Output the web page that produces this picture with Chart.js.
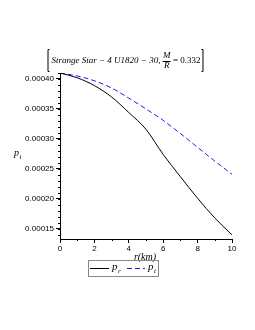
<!DOCTYPE html>
<html>
<head>
<meta charset="utf-8">
<script src="https://cdn.jsdelivr.net/npm/chart.js@4"></script>
<style>
  html, body { margin: 0; padding: 0; background: #fff; }
  #wrap { width: 255px; height: 330px; position: relative; }
</style>
</head>
<body>
<div id="wrap"><canvas id="c"></canvas></div>
<script>
// data
const rKm = [0, 1, 2, 3, 4, 5, 6, 7, 8, 9, 10];
const pR = [0.000410, 0.000402, 0.000389, 0.000370, 0.000344, 0.000316, 0.000274, 0.000237, 0.000201, 0.000168, 0.000140];
const pT = [0.000410, 0.000405, 0.000397, 0.000385, 0.000368, 0.000350, 0.000331, 0.000309, 0.000286, 0.000263, 0.000241];
const yTicks = [0.00015, 0.00020, 0.00025, 0.00030, 0.00035, 0.00040];
const xTicks = [0, 2, 4, 6, 8, 10];
const titleText = 'Strange Star \u2212 4 U1820 \u2212 30, ';
const titleValue = ' = 0.332';

const serif = '"Liberation Serif", "DejaVu Serif", serif';
const sans = '"Liberation Sans", Arial, sans-serif';

// minor ticks, title with fraction, axis labels and legend
const extras = {
  id: 'extras',
  afterDraw(chart) {
    const { ctx, scales: { x, y } } = chart;
    ctx.save();
    ctx.strokeStyle = '#000'; ctx.lineWidth = 1;
    ctx.beginPath();
    for (let v = 0.00014; v <= 0.000411; v += 0.00001) {
      const py = Math.round(y.getPixelForValue(v)) + 0.5;
      ctx.moveTo(x.left - 2, py); ctx.lineTo(x.left, py);
    }
    for (let v = 1; v <= 9; v += 2) {
      const px = Math.round(x.getPixelForValue(v)) + 0.5;
      ctx.moveTo(px, y.bottom); ctx.lineTo(px, y.bottom + 2);
    }
    ctx.stroke();

    // title
    ctx.fillStyle = '#000';
    ctx.textBaseline = 'middle';
    ctx.font = 'italic 9px ' + serif;
    const w1 = ctx.measureText(titleText).width;
    ctx.font = '9px ' + serif;
    const w3 = ctx.measureText(titleValue).width;
    const fw = 8;
    const total = w1 + fw + w3;
    const cx = 126, ty = 61;
    let tx = cx - total / 2;
    ctx.textAlign = 'left';
    ctx.font = 'italic 9px ' + serif;
    ctx.fillText(titleText, tx, ty);
    tx += w1;
    ctx.textAlign = 'center';
    ctx.fillText('M', tx + fw / 2, ty - 5);
    ctx.fillText('R', tx + fw / 2, ty + 5);
    ctx.beginPath();
    ctx.moveTo(tx, ty + 0.5); ctx.lineTo(tx + fw, ty + 0.5); ctx.stroke();
    tx += fw;
    ctx.textAlign = 'left';
    ctx.font = '9px ' + serif;
    ctx.fillText(titleValue, tx, ty);
    tx += w3;
    // brackets
    const bl = cx - total / 2 - 4, br = tx + 3;
    ctx.beginPath();
    ctx.moveTo(bl + 2, ty - 11.5); ctx.lineTo(bl + 0.5, ty - 11.5); ctx.lineTo(bl + 0.5, ty + 10.5); ctx.lineTo(bl + 2, ty + 10.5);
    ctx.moveTo(br - 2, ty - 11.5); ctx.lineTo(br - 0.5, ty - 11.5); ctx.lineTo(br - 0.5, ty + 10.5); ctx.lineTo(br - 2, ty + 10.5);
    ctx.stroke();

    // y label p_i
    ctx.font = 'italic 10px ' + serif;
    ctx.textAlign = 'left';
    ctx.fillText('p', 14, 153);
    ctx.font = 'italic 7px ' + serif;
    ctx.fillText('i', 19.5, 157);

    // x label
    ctx.font = 'italic 10px ' + serif;
    ctx.textAlign = 'center';
    ctx.fillText('r(km)', 145, 257);

    // legend
    ctx.strokeStyle = '#888';
    ctx.strokeRect(88.5, 260.5, 70, 16);
    const ly = 268.5;
    const drawEntry = (ds, x0, len, sub) => {
      ctx.strokeStyle = ds.borderColor; ctx.lineWidth = 1;
      ctx.setLineDash(ds.borderDash || []);
      ctx.beginPath(); ctx.moveTo(x0, ly); ctx.lineTo(x0 + len, ly); ctx.stroke();
      ctx.setLineDash([]);
      ctx.fillStyle = '#000';
      ctx.textAlign = 'left';
      ctx.font = 'italic 11px ' + serif;
      ctx.fillText('p', x0 + len + 3, ly - 1);
      ctx.font = 'italic 7px ' + serif;
      ctx.fillText(sub, x0 + len + 9, ly + 3);
    };
    drawEntry(chart.data.datasets[0], 90, 19, 'r');
    drawEntry(chart.data.datasets[1], 127, 18, 't');
    ctx.restore();
  }
};

new Chart(document.getElementById('c'), {
  type: 'line',
  data: {
    datasets: [
      { label: 'p_r', data: rKm.map((r, i) => ({ x: r, y: pR[i] })), borderColor: '#000', borderWidth: 1, pointRadius: 0, cubicInterpolationMode: 'monotone', fill: false },
      { label: 'p_t', data: rKm.map((r, i) => ({ x: r, y: pT[i] })), borderColor: '#1a1aff', borderWidth: 1, borderDash: [5, 3], pointRadius: 0, cubicInterpolationMode: 'monotone', fill: false }
    ]
  },
  options: {
    responsive: true, maintainAspectRatio: false, animation: false,
    layout: { padding: { left: 0, top: 73, right: 23, bottom: 0 } },
    plugins: { legend: { display: false }, title: { display: false }, tooltip: { enabled: false } },
    scales: {
      x: {
        type: 'linear', min: 0, max: 10,
        afterBuildTicks: s => { s.ticks = xTicks.map(v => ({ value: v })); },
        afterFit: s => { s.height = 91; },
        grid: { drawOnChartArea: false, drawTicks: true, tickLength: 4, color: '#000' },
        border: { color: '#000', width: 1 },
        ticks: { color: '#000', font: { family: sans, size: 8 }, padding: 1, maxRotation: 0 }
      },
      y: {
        type: 'linear', min: 0.000133, max: 0.000410,
        afterBuildTicks: s => { s.ticks = yTicks.map(v => ({ value: v })); },
        afterFit: s => { s.width = 60; },
        grid: { drawOnChartArea: false, drawTicks: true, tickLength: 4, color: '#000' },
        border: { color: '#000', width: 1 },
        ticks: { color: '#000', font: { family: sans, size: 8 }, padding: 2, callback: v => v.toFixed(5) }
      }
    }
  },
  plugins: [extras]
});
</script>
</body>
</html>
